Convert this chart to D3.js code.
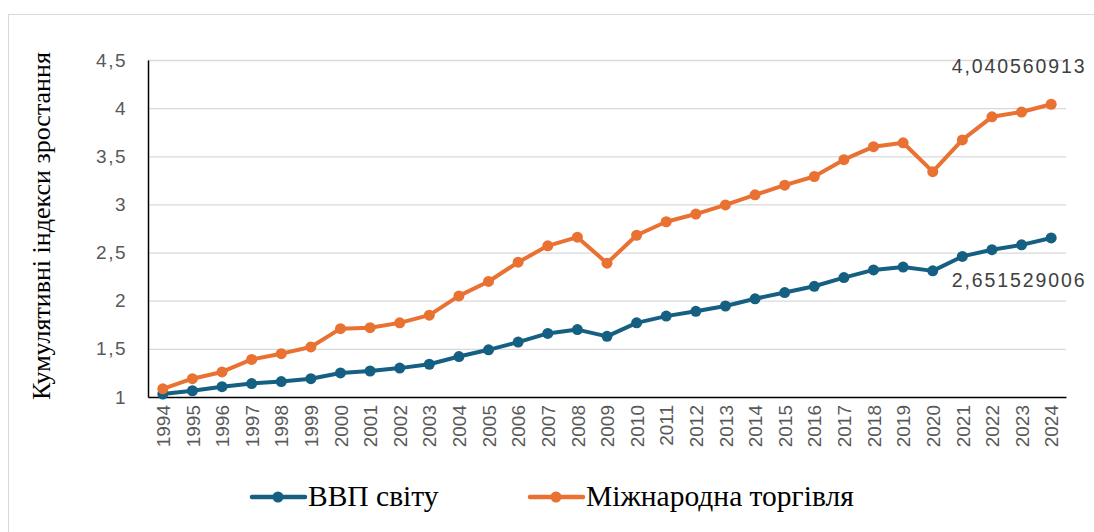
<!DOCTYPE html>
<html lang="uk">
<head>
    <meta charset="UTF-8">
    <title>Кумулятивні індекси зростання</title>
    <script src="https://cdn.jsdelivr.net/npm/d3@7"></script>
    <style>
        body { margin: 0; background: #fff; }
        .grid line { stroke: #d9d9d9; stroke-width: 1.3; }
        .tick text { font-family: "Liberation Sans", Arial, sans-serif; font-size: 19px; fill: #595959; }
        .ytick .tick text { letter-spacing: 1.5px; }
        .dlabel { font-family: "Liberation Sans", Arial, sans-serif; font-size: 19.5px; fill: #404040; letter-spacing: 1.9px; }
    </style>
</head>
<body>
<script>
    const width = 1094;
    const height = 532;

    const years = d3.range(1994, 2025).map(String);
    const gdp = [1.03, 1.065, 1.107, 1.14, 1.16, 1.19, 1.25, 1.27, 1.30, 1.34,
                 1.42, 1.49, 1.57, 1.66, 1.70, 1.63, 1.77, 1.84, 1.89, 1.945,
                 2.02, 2.085, 2.15, 2.24, 2.32, 2.35, 2.31, 2.46, 2.53, 2.58, 2.651529006];
    const trade = [1.085, 1.19, 1.26, 1.39, 1.45, 1.52, 1.71, 1.72, 1.77, 1.85,
                   2.05, 2.20, 2.40, 2.57, 2.66, 2.39, 2.68, 2.82, 2.90, 2.995,
                   3.10, 3.20, 3.29, 3.465, 3.60, 3.64, 3.34, 3.67, 3.91, 3.96, 4.040560913];
    const yTicks = [1, 1.5, 2, 2.5, 3, 3.5, 4, 4.5];
    const seriesNames = ["ВВП світу", "Міжнародна торгівля"];
    const colors = ["#156082", "#e97132"];

    const margin = {left: 148, right: 28, top: 60, bottom: 135};
    const serif = "'Liberation Serif', 'Times New Roman', Times, serif";

    const svg = d3.select("body").append("svg")
        .attr("width", width).attr("height", height);

    // outer frame
    svg.append("rect")
        .attr("x", 8.5).attr("y", 14.5)
        .attr("width", 1100).attr("height", 540)
        .attr("fill", "none").attr("stroke", "#d9d9d9");

    const x = d3.scalePoint()
        .domain(years)
        .range([margin.left, width - margin.right])
        .padding(0.5);

    const y = d3.scaleLinear()
        .domain([1, 4.5])
        .range([height - margin.bottom, margin.top]);

    // gridlines
    svg.append("g")
        .attr("class", "grid")
        .attr("transform", `translate(${margin.left},0)`)
        .call(d3.axisLeft(y).tickValues(yTicks.slice(1))
            .tickSize(-(width - margin.left - margin.right)).tickFormat(""))
        .call(g => g.select(".domain").remove());

    // y axis
    const yAxis = svg.append("g")
        .attr("class", "ytick")
        .attr("transform", `translate(${margin.left},0)`)
        .call(d3.axisLeft(y).tickValues(yTicks).tickSize(0).tickPadding(21)
            .tickFormat(d => String(d).replace(".", ",")));
    yAxis.select(".domain").attr("stroke", "#000").attr("stroke-width", 1.5);

    // x axis
    const xAxis = svg.append("g")
        .attr("transform", `translate(0,${height - margin.bottom})`)
        .call(d3.axisBottom(x).tickSize(0).tickPadding(0));
    xAxis.select(".domain").attr("stroke", "#000").attr("stroke-width", 1.5);
    xAxis.selectAll(".tick text")
        .attr("transform", "rotate(-90)")
        .attr("text-anchor", "end")
        .attr("dx", "-8px")
        .attr("dy", "0.35em");

    // y axis title
    svg.append("text")
        .attr("transform", `translate(50,226) rotate(-90)`)
        .attr("text-anchor", "middle")
        .style("font-family", serif)
        .style("font-size", "26px")
        .style("fill", "#000")
        .text("Кумулятивні індекси зростання");

    // lines
    const line = d3.line()
        .x((d, i) => x(years[i]))
        .y(d => y(d));

    [gdp, trade].forEach((vals, k) => {
        svg.append("path")
            .datum(vals)
            .attr("fill", "none")
            .attr("stroke", colors[k])
            .attr("stroke-width", 4)
            .attr("stroke-linejoin", "round")
            .attr("d", line);
        svg.append("g").selectAll("circle")
            .data(vals)
            .join("circle")
            .attr("cx", (d, i) => x(years[i]))
            .attr("cy", d => y(d))
            .attr("r", 5.5)
            .attr("fill", colors[k]);
    });

    // data labels for last point
    const fmt = v => String(v).replace(".", ",");
    const lastX = x(years[years.length - 1]);
    svg.append("text")
        .attr("class", "dlabel")
        .attr("x", lastX - 32).attr("y", y(trade[trade.length - 1]) - 31)
        .attr("text-anchor", "middle")
        .text(fmt(trade[trade.length - 1]));
    svg.append("text")
        .attr("class", "dlabel")
        .attr("x", lastX - 32).attr("y", y(gdp[gdp.length - 1]) + 49)
        .attr("text-anchor", "middle")
        .text(fmt(gdp[gdp.length - 1]));

    // legend
    const legendX = [250, 528];
    const legend = svg.append("g").selectAll("g")
        .data(seriesNames)
        .join("g")
        .attr("transform", (d, i) => `translate(${legendX[i]},497)`);
    legend.append("line")
        .attr("x1", 2).attr("x2", 55)
        .attr("stroke", (d, i) => colors[i])
        .attr("stroke-width", 4.5)
        .attr("stroke-linecap", "round");
    legend.append("circle")
        .attr("cx", 28).attr("r", 5.5)
        .attr("fill", (d, i) => colors[i]);
    legend.append("text")
        .attr("x", 58).attr("y", 9)
        .style("font-family", serif)
        .style("font-size", "29.5px")
        .style("fill", "#000")
        .text(d => d);
</script>
</body>
</html>
